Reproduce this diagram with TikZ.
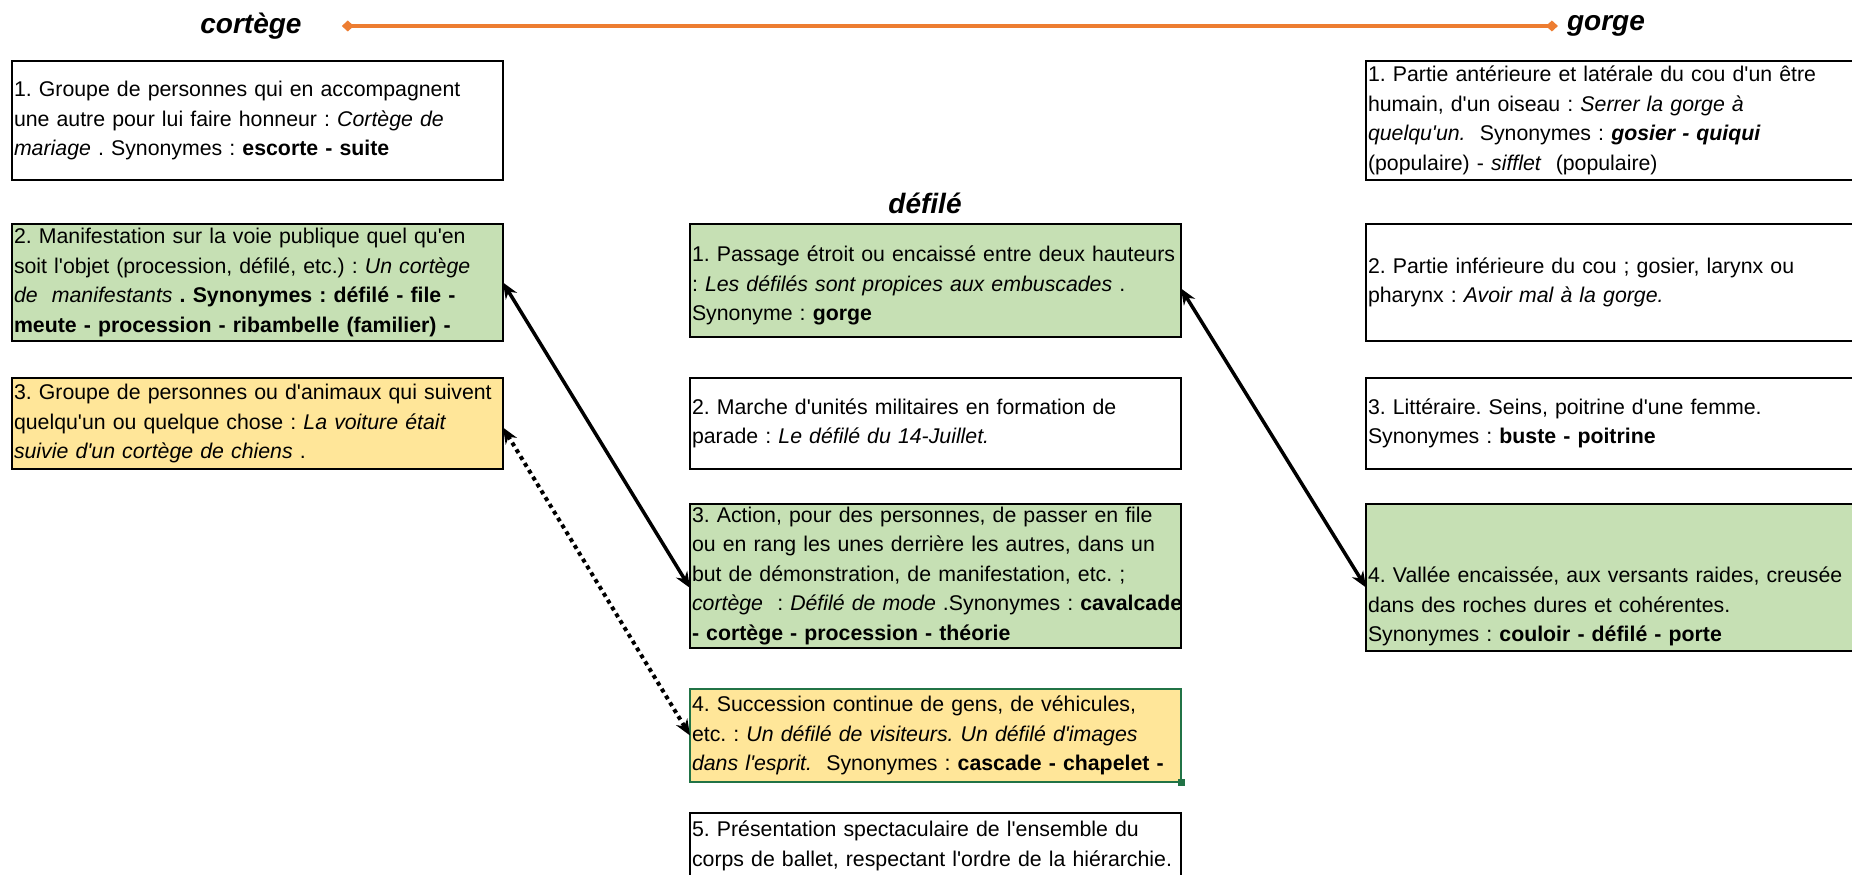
\documentclass[tikz,border=0pt]{standalone}
\usepackage{fontspec}
\setmainfont{Liberation Sans}[Ligatures={TeXOff,CommonOff}]
\usetikzlibrary{positioning,arrows.meta}
\definecolor{vert}{HTML}{C6E0B4}
\definecolor{jaune}{HTML}{FFE699}
\definecolor{trait}{HTML}{ED7D31}
\definecolor{excelvert}{HTML}{217346}
\frenchspacing
\hyphenpenalty=10000
\exhyphenpenalty=10000

\begin{document}
\begin{tikzpicture}[x=1pt,y=-1pt,
		sens/.style={draw=black,line width=2.5pt,rectangle,minimum width=491pt,text width=487pt,outer sep=0pt,
			inner xsep=2pt,inner ysep=1pt,align=left,font=\fontsize{21.3}{29.5}\selectfont},
		droite/.style={minimum width=520pt,text width=516pt},
		mot/.style={font=\fontsize{28}{32}\selectfont\bfseries\itshape,inner sep=2pt},
		lien/.style={line width=3.5pt,{Stealth[length=16pt,width=13pt]}-{Stealth[length=16pt,width=13pt]}}]
	\useasboundingbox (0,0) rectangle (1852,875);
	\node[mot] (cortege) at (251,26) {cortège};
	\node[mot] (gorge) at (1606,26) {gorge};
	\node[mot] (defile) at (925,203) {défilé};
	\draw[trait,line width=4.5pt,{Diamond[length=12pt,width=11pt]}-{Diamond[length=12pt,width=11pt]}]
		([xshift=38pt]cortege.east) -- ([xshift=-7pt]gorge.west);
	%
	\node[sens,minimum height=119pt,anchor=north west] (c1) at (12,61)
		{1. Groupe de personnes qui en accompagnent\\
		une autre pour lui faire honneur : \textit{Cortège de}\\
		\textit{mariage} . Synonymes : \textbf{escorte - suite}};
	\node[sens,fill=vert,minimum height=117pt,below=44pt of c1] (c2)
		{2. Manifestation sur la voie publique quel qu'en\\
		soit l'objet (procession, défilé, etc.) : \textit{Un cortège}\\
		\textit{de~ manifestants} \textbf{. Synonymes : défilé - file -}\\
		\textbf{meute - procession - ribambelle (familier) -}};
	\node[sens,fill=jaune,minimum height=91pt,below=37pt of c2] (c3)
		{3. Groupe de personnes ou d'animaux qui suivent\\
		quelqu'un ou quelque chose : \textit{La voiture était}\\
		\textit{suivie d'un cortège de chiens} .};
	%
	\node[sens,fill=vert,minimum height=113pt,anchor=north west] (d1) at (690,224)
		{\rule{0pt}{26pt}1. Passage étroit ou encaissé entre deux hauteurs\\
		: \textit{Les défilés sont propices aux embuscades} .\\
		Synonyme : \textbf{gorge}};
	\node[sens,minimum height=91pt,below=41pt of d1] (d2)
		{2. Marche d'unités militaires en formation de\\
		parade : \textit{Le défilé du 14-Juillet.}};
	\node[sens,fill=vert,minimum height=144pt,below=35pt of d2] (d3)
		{3. Action, pour des personnes, de passer en file\\
		ou en rang les unes derrière les autres, dans un\\
		but de démonstration, de manifestation, etc. ;\\
		\mbox{\textit{cortège}~ : \textit{Défilé de mode} .Synonymes : \textbf{cavalcade}}\\
		\textbf{- cortège - procession - théorie}};
	\node[sens,fill=jaune,draw=excelvert,line width=2pt,minimum height=93pt,below=41pt of d3] (d4)
		{4. Succession continue de gens, de véhicules,\\
		etc. : \textit{Un défilé de visiteurs. Un défilé d'images}\\
		\textit{dans l'esprit.}~ Synonymes : \textbf{cascade - chapelet -}};
	\node[fill=excelvert,minimum size=7pt,inner sep=0pt] (poignee) at (d4.south east) {};
	\node[sens,minimum height=66pt,below=31pt of d4] (d5)
		{5. Présentation spectaculaire de l'ensemble du\\
		corps de ballet, respectant l'ordre de la hiérarchie.};
	%
	\node[sens,droite,minimum height=119pt,anchor=north west] (g1) at (1366,61)
		{1. Partie antérieure et latérale du cou d'un être\\
		humain, d'un oiseau : \textit{Serrer la gorge à}\\
		\textit{quelqu'un.}~ Synonymes : \textbf{\textit{gosier - quiqui}}\\
		(populaire) - \textit{sifflet}~ (populaire)};
	\node[sens,droite,minimum height=117pt,below=44pt of g1] (g2)
		{2. Partie inférieure du cou ; gosier, larynx ou\\
		pharynx : \textit{Avoir mal à la gorge.}};
	\node[sens,droite,minimum height=91pt,below=37pt of g2] (g3)
		{3. Littéraire. Seins, poitrine d'une femme.\\
		Synonymes : \textbf{buste - poitrine}};
	\node[sens,droite,fill=vert,minimum height=147pt,below=35pt of g3] (g4)
		{\rule{0pt}{74pt}4. Vallée encaissée, aux versants raides, creusée\\
		dans des roches dures et cohérentes.\\
		Synonymes : \textbf{couloir - défilé - porte}};
	%
	\draw[lien] (c2.east) -- ([yshift=-12pt]d3.west);
	\draw[lien,line width=4pt,dash pattern=on 4pt off 4pt] ([yshift=-4pt]c3.east) -- (d4.west);
	\draw[lien] ([yshift=-8pt]d1.east) -- ([yshift=-10pt]g4.west);
\end{tikzpicture}
\end{document}
